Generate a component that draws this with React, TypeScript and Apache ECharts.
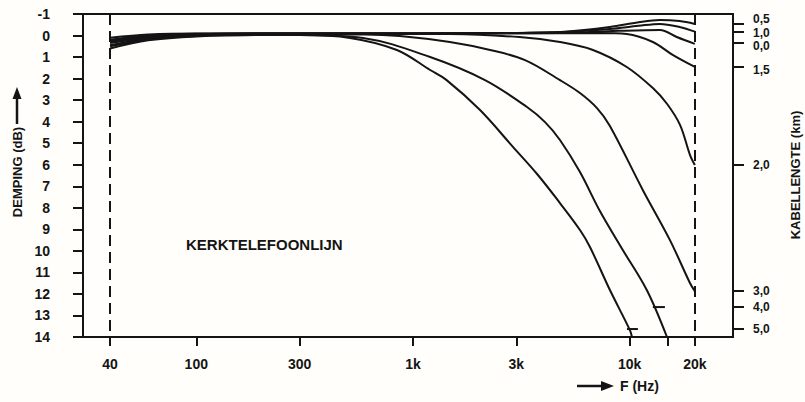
import React, { useEffect, useRef } from 'react';
import * as echarts from 'echarts';

// Frequency response (F in Hz, attenuation in dB) per cable length (km)
const len00: number[][] = [[40, 0.1], [60, -0.05], [100, -0.1], [300, -0.1], [1000, -0.1], [3000, -0.12], [6000, -0.15], [9000, -0.22], [13800, -0.26], [16500, 0.07], [20000, 0.39]];
const len05: number[][] = [[40, 0.2], [60, 0.0], [100, -0.08], [300, -0.1], [1000, -0.1], [3000, -0.12], [5000, -0.18], [8100, -0.4], [11000, -0.62], [13800, -0.72], [17000, -0.67], [20000, -0.54]];
const len10: number[][] = [[40, 0.25], [60, 0.05], [100, -0.06], [300, -0.1], [1000, -0.1], [3000, -0.12], [5000, -0.16], [8100, -0.3], [11000, -0.45], [13800, -0.54], [17000, -0.4], [20000, -0.18]];
const len15: number[][] = [[40, 0.3], [60, 0.08], [100, -0.05], [300, -0.1], [1000, -0.1], [3000, -0.1], [7300, -0.12], [9700, -0.07], [12800, 0.3], [15800, 0.9], [20000, 1.46]];
const len20: number[][] = [[40, 0.35], [60, 0.1], [100, -0.03], [300, -0.08], [700, -0.08], [1480, -0.07], [3100, 0.07], [4770, 0.3], [6770, 0.67], [9700, 1.46], [12800, 2.44], [14900, 3.18], [17100, 4.16], [19000, 5.55], [20000, 6.01]];
const len30: number[][] = [[40, 0.45], [60, 0.15], [100, 0.0], [300, -0.05], [600, -0.05], [870, 0.02], [1480, 0.3], [2270, 0.67], [3290, 1.14], [4770, 2.07], [5900, 2.67], [7070, 3.37], [8110, 4.2], [11500, 7.17], [15350, 9.5], [18980, 11.49], [20000, 11.87]];
const len40: number[][] = [[40, 0.5], [60, 0.18], [100, 0.02], [300, -0.03], [588, 0.11], [1200, 1.0], [2150, 2.07], [3360, 3.32], [4070, 4.02], [4770, 4.85], [5900, 6.34], [7290, 8.15], [9300, 9.96], [12000, 11.82], [14870, 14.0]];
const len50: number[][] = [[40, 0.6], [60, 0.22], [100, 0.04], [200, -0.02], [300, -0.02], [512, 0.11], [843, 0.67], [1200, 1.6], [1430, 2.07], [2040, 3.46], [2900, 5.18], [3740, 6.43], [4770, 7.78], [5900, 9.03], [6560, 9.82], [8110, 11.82], [10030, 13.68], [10250, 14.0]];

// small horizontal markers near the ends of the 4,0 and 5,0 km curves
const mark40: number[][] = [[12800, 12.61], [14550, 12.61]];
const mark50: number[][] = [[9720, 13.63], [10920, 13.63]];

const xTickValues = [40, 100, 300, 1000, 3000, 10000, 15000, 20000];
const xLabelValues = [40, 100, 300, 1000, 3000, 10000, 20000];
const xLabelTexts = ['40', '100', '300', '1k', '3k', '10k', '20k'];

// right axis: cable length (km) at the curve ends
const rightTickDb = [-0.54, -0.16, 0.35, 1.46, 6.01, 11.87, 12.61, 13.63];
const rightLabelDb = [-0.78, 0.5, 1.6, 6.01, 11.87, 12.61, 13.63];
const rightLabelTexts = ['0,5', '0,0', '1,5', '2,0', '3,0', '4,0', '5,0'];
const rightLabelDbMid = [-0.14];
const rightLabelTextsMid = ['1,0'];

const guideFreqs = [40, 20000];

const INK = '#141414';
const FONT = '"Liberation Sans", Arial, sans-serif';

const lookup = (vals: number[], texts: string[]) => (v: number) => {
  const i = vals.findIndex((x) => Math.abs(x - v) < 1e-6);
  return i >= 0 ? texts[i] : '';
};

export default function App() {
  const ref = useRef<HTMLDivElement>(null);
  useEffect(() => {
    if (!ref.current) return;
    const chart = echarts.init(ref.current, undefined, { renderer: 'svg' });
    const curves = [len00, len05, len10, len15, len20, len30, len40, len50];
    const lineSeries: any[] = curves.map((d, i) => ({
      type: 'line',
      data: d,
      smooth: 0.35,
      showSymbol: false,
      silent: true,
      clip: true,
      lineStyle: { color: INK, width: 2 },
      markLine: i === 0 ? {
        silent: true,
        symbol: 'none',
        label: { show: false },
        lineStyle: { color: INK, width: 2, type: [11, 6] },
        data: guideFreqs.map((f) => ({ xAxis: f })),
      } : undefined,
    }));
    [mark40, mark50].forEach((d) => lineSeries.push({
      type: 'line', data: d, showSymbol: false, silent: true,
      lineStyle: { color: INK, width: 2 },
    }));
    const rightLabelStyle = {
      margin: 20, hideOverlap: false, showMinLabel: true, showMaxLabel: true,
      color: INK, fontFamily: FONT, fontWeight: 'bold', fontSize: 12, lineHeight: 12,
    };
    chart.setOption({
      animation: false,
      backgroundColor: '#fffefa',
      grid: { left: 83, right: 72, top: 14, bottom: 65, show: true, borderColor: INK, borderWidth: 2 },
      xAxis: {
        type: 'log', logBase: 10, min: 30, max: 30000,
        axisLine: { show: true, onZero: false, lineStyle: { color: INK, width: 2 } },
        axisTick: { show: true, customValues: xTickValues, length: 9, lineStyle: { color: INK, width: 2 } },
        minorTick: { show: false },
        splitLine: { show: false },
        axisLabel: {
          customValues: xLabelValues,
          margin: 20,
          color: INK, fontFamily: FONT, fontWeight: 'bold', fontSize: 14,
          formatter: (v: number) => {
            const i = xLabelValues.findIndex((x) => Math.abs(x - v) / x < 1e-6);
            return i >= 0 ? xLabelTexts[i] : '';
          },
        },
      },
      yAxis: [
        {
          type: 'value', inverse: true, min: -1, max: 14, interval: 1, position: 'left',
          axisLine: { show: true, onZero: false, lineStyle: { color: INK, width: 2 } },
          axisTick: { show: true, length: 10, lineStyle: { color: INK, width: 2 } },
          splitLine: { show: false },
          axisLabel: { margin: 33, showMinLabel: true, showMaxLabel: true, color: INK, fontFamily: FONT, fontWeight: 'bold', fontSize: 14 },
        },
        {
          type: 'value', inverse: true, min: -1, max: 14, position: 'right',
          axisLine: { show: true, onZero: false, lineStyle: { color: INK, width: 2 } },
          axisTick: { show: true, customValues: rightTickDb, length: 11, lineStyle: { color: INK, width: 2 } },
          splitLine: { show: false },
          axisLabel: { ...rightLabelStyle, customValues: rightLabelDb, formatter: lookup(rightLabelDb, rightLabelTexts) },
        },
        {
          type: 'value', inverse: true, min: -1, max: 14, position: 'right',
          axisLine: { show: false, onZero: false },
          axisTick: { show: false },
          splitLine: { show: false },
          axisLabel: { ...rightLabelStyle, customValues: rightLabelDbMid, formatter: lookup(rightLabelDbMid, rightLabelTextsMid) },
        },
      ],
      graphic: [
        { type: 'text', x: 17, y: 172, rotation: Math.PI / 2, style: { text: 'DEMPING (dB)', fill: INK, font: `bold 13px ${FONT}`, textAlign: 'center', textVerticalAlign: 'middle' } },
        { type: 'line', shape: { x1: 17, y1: 124, x2: 17, y2: 97 }, style: { stroke: INK, lineWidth: 2.5 } },
        { type: 'polygon', shape: { points: [[12.5, 99], [17, 87], [21.5, 99]] }, style: { fill: INK } },
        { type: 'text', x: 795, y: 175, rotation: Math.PI / 2, style: { text: 'KABELLENGTE (km)', fill: INK, font: `bold 13px ${FONT}`, textAlign: 'center', textVerticalAlign: 'middle' } },
        { type: 'text', x: 186, y: 244, style: { text: 'KERKTELEFOONLIJN', fill: INK, font: `bold 15px ${FONT}`, textAlign: 'left', textVerticalAlign: 'middle' } },
        { type: 'line', shape: { x1: 577, y1: 386, x2: 604, y2: 386 }, style: { stroke: INK, lineWidth: 2.5 } },
        { type: 'polygon', shape: { points: [[601, 381], [614, 386], [601, 391]] }, style: { fill: INK } },
        { type: 'text', x: 620, y: 386, style: { text: 'F (Hz)', fill: INK, font: `bold 14px ${FONT}`, textAlign: 'left', textVerticalAlign: 'middle' } },
      ],
      series: lineSeries,
    });
    return () => chart.dispose();
  }, []);
  return <div ref={ref} style={{ position: 'fixed', left: 0, top: 0, width: 805, height: 402 }} />;
}
